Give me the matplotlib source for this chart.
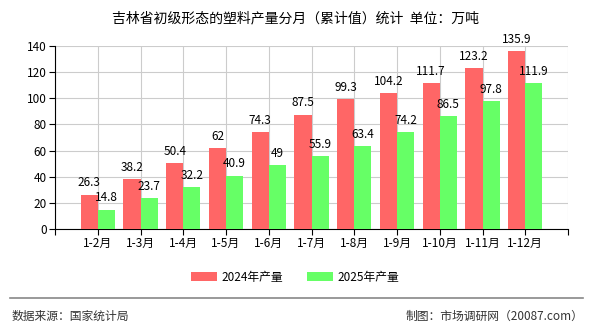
import matplotlib
matplotlib.use("Agg")
import matplotlib.pyplot as plt
from matplotlib.lines import Line2D
import numpy as np

plt.rcParams['font.family'] = ['Noto Sans CJK SC', 'DejaVu Sans']

categories = ["1-2月", "1-3月", "1-4月", "1-5月", "1-6月", "1-7月", "1-8月",
              "1-9月", "1-10月", "1-11月", "1-12月"]
values_2024 = [26.3, 38.2, 50.4, 62, 74.3, 87.5, 99.3, 104.2, 111.7, 123.2, 135.9]
values_2025 = [14.8, 23.7, 32.2, 40.9, 49, 55.9, 63.4, 74.2, 86.5, 97.8, 111.9]
label_2024 = "2024年产量"
label_2025 = "2025年产量"
title = "吉林省初级形态的塑料产量分月（累计值）统计  单位：万吨"
yticks = [0, 20, 40, 60, 80, 100, 120, 140]

red = "#FF6666"
green = "#66FF66"

fig = plt.figure(figsize=(5.9, 3.3), dpi=100)
W, H = 590, 330
l, r, t, b = 55, 568, 46, 229
ax = fig.add_axes([l / W, 1 - b / H, (r - l) / W, (b - t) / H])

x = np.arange(1, len(categories) + 1)
w = 0.4
ax.bar(x - w / 2, values_2024, width=w, color=red, label=label_2024, zorder=3)
ax.bar(x + w / 2, values_2025, width=w, color=green, label=label_2025, zorder=3)

for xi, v in zip(x, values_2024):
    ax.text(xi - w / 2, v + 4, f"{v:g}", ha="center", va="bottom", fontsize=8.5, zorder=4)
for xi, v in zip(x, values_2025):
    ax.text(xi + w / 2, v + 4, f"{v:g}", ha="center", va="bottom", fontsize=8.5, zorder=4)

ax.set_xlim(0, len(categories) + 1)
ax.set_ylim(0, 140)
ax.set_yticks(yticks)
ax.set_xticks(np.arange(0, len(categories) + 2))
ax.set_xticklabels([""] + categories + [""], fontsize=8.5)
ax.tick_params(axis="y", labelsize=8.5, length=4, pad=2)
ax.tick_params(axis="x", length=4, pad=2)
ax.grid(True, color="#CCCCCC", linewidth=0.8, zorder=0)
for s in ["top", "right"]:
    ax.spines[s].set_visible(False)
ax.spines["left"].set_color("black")
ax.spines["bottom"].set_color("black")

fig.text(295 / W, 1 - 18 / H, title, ha="center", va="center", fontsize=10)

fig.legend(loc="center", bbox_to_anchor=(295 / W, 1 - 277 / H), ncol=2,
           frameon=False, fontsize=8.5, handlelength=2.2, handleheight=0.9,
           columnspacing=2.0, handletextpad=0.4)

fig.add_artist(Line2D([10 / W, 583 / W], [1 - 298 / H, 1 - 298 / H],
                      color="#888888", linewidth=1.2))
fig.text(12 / W, 1 - 316 / H, "数据来源：国家统计局", ha="left", va="center",
         fontsize=8.5, color="#333333")
fig.text(583 / W, 1 - 316 / H, "制图：市场调研网（20087.com）", ha="right", va="center",
         fontsize=8.5, color="#333333")

fig.savefig("out.png", dpi=100)
